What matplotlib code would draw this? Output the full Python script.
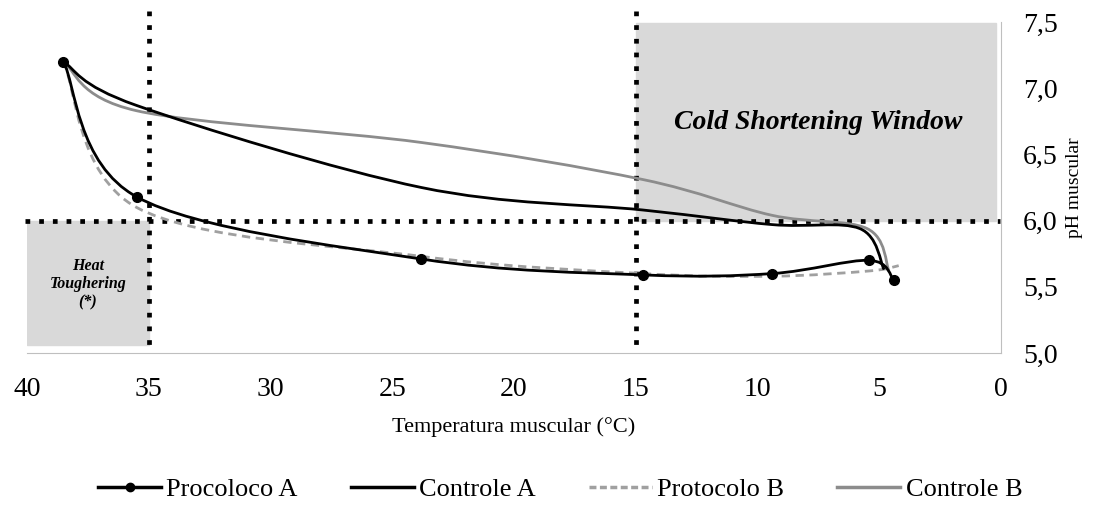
import matplotlib.pyplot as plt
import numpy as np
from matplotlib.path import Path
from matplotlib.patches import PathPatch, Rectangle
from matplotlib.lines import Line2D
from matplotlib.ticker import FuncFormatter

plt.rcParams['font.family'] = ['Liberation Serif', 'DejaVu Serif']

# temperatures (°C) and pH
temp_proc_a = [38.5, 35.5, 23.8, 14.7, 9.4, 5.4, 4.4]
ph_proc_a = [7.2, 6.18, 5.71, 5.59, 5.6, 5.7, 5.55]

temp_ctrl_a = [38.5, 35.5, 23.8, 14.7, 9.4, 5.8, 4.8]
ph_ctrl_a = [7.2, 6.87, 6.25, 6.08, 5.97, 5.94, 5.63]

temp_prot_b = [38.5, 35.5, 23.8, 14.7, 9.4, 5.4, 4.2]
ph_prot_b = [7.2, 6.1, 5.73, 5.6, 5.58, 5.62, 5.66]

temp_ctrl_b = [38.5, 35.5, 23.8, 14.7, 9.4, 5.5, 4.6]
ph_ctrl_b = [7.2, 6.83, 6.59, 6.31, 6.04, 5.94, 5.62]

series_names = ['Procoloco A', 'Controle A', 'Protocolo B', 'Controle B']
xticks = [40, 35, 30, 25, 20, 15, 10, 5, 0]
yticks = [5.0, 5.5, 6.0, 6.5, 7.0, 7.5]


def smooth_path(xs, ys):
    # excel-like smoothed line: cubic bezier segments through the points
    p = np.column_stack([xs, ys]).astype(float)
    n = len(p)
    verts = [p[0]]
    codes = [Path.MOVETO]
    for i in range(n - 1):
        prev = p[i - 1] if i > 0 else p[i]
        nxt = p[i + 2] if i + 2 < n else p[i + 1]
        c1 = p[i] + (p[i + 1] - prev) / 6
        c2 = p[i + 1] - (nxt - p[i]) / 6
        verts += [c1, c2, p[i + 1]]
        codes += [Path.CURVE4] * 3
    return Path(verts, codes)


fig = plt.figure(figsize=(11.09, 5.07), dpi=100)
ax = fig.add_axes([0.0243, 0.3037, 0.8783, 0.6529])
ax.set_xlim(40, 0)
ax.set_ylim(5.0, 7.5)

grey_fill = '#d9d9d9'
ax.add_patch(Rectangle((35, 5.06), 5, 0.94, color=grey_fill, zorder=0))
ax.add_patch(Rectangle((0.2, 6.0), 14.8, 1.49, color=grey_fill, zorder=0))

ax.text(7.5, 6.74, 'Cold Shortening Window', ha='center', va='center',
        fontsize=20, fontweight='bold', style='italic')
ax.text(37.5, 5.52, 'Heat\nToughering\n(*)', ha='center', va='center',
        fontsize=11.5, fontweight='bold', style='italic', linespacing=1.15)

dot = dict(color='black', lw=3.4, linestyle=(0, (1, 1.9)),
           dash_capstyle='butt', clip_on=False, zorder=2)
ax.plot([35, 35], [7.58, 5.05], **dot)
ax.plot([15, 15], [7.58, 5.02], **dot)
ax.plot([40.1, 0.05], [6.0, 6.0], **dot)

styles = [
    (temp_proc_a, ph_proc_a, 'black', '-', 2.0),
    (temp_ctrl_a, ph_ctrl_a, 'black', '-', 2.0),
    (temp_prot_b, ph_prot_b, '#a0a0a0', (0, (3, 2)), 2.0),
    (temp_ctrl_b, ph_ctrl_b, '#8c8c8c', '-', 2.0),
]
for xs, ys, c, ls, lw in styles[::-1]:
    ax.add_patch(PathPatch(smooth_path(xs, ys), fill=False, edgecolor=c,
                           linestyle=ls, lw=lw, zorder=3))
ax.plot(temp_proc_a, ph_proc_a, 'o', color='black', ms=7, zorder=4)

ax.yaxis.tick_right()
ax.yaxis.set_label_position('right')
ax.set_xticks(xticks)
ax.set_yticks(yticks)
ax.yaxis.set_major_formatter(FuncFormatter(lambda v, p: f'{v:.1f}'.replace('.', ',')))
ax.tick_params(axis='x', length=0, pad=17, labelsize=20)
ax.tick_params(axis='y', length=0, pad=16, labelsize=20)
for s in ['top', 'left']:
    ax.spines[s].set_visible(False)
for s in ['bottom', 'right']:
    ax.spines[s].set_color('#bfbfbf')
ax.set_xlabel('Temperatura muscular (°C)', fontsize=16, labelpad=11)
ax.set_ylabel('pH muscular', fontsize=14, labelpad=6)

handles = [
    Line2D([], [], color='black', lw=2.5, marker='o', ms=6),
    Line2D([], [], color='black', lw=2.5),
    Line2D([], [], color='#a0a0a0', lw=2.5, linestyle=(0, (2, 1))),
    Line2D([], [], color='#8c8c8c', lw=2.5),
]
fig.legend(handles, series_names, loc='center', bbox_to_anchor=(0.505, 0.035),
           ncol=4, frameon=False, fontsize=19, handlelength=2.4,
           handletextpad=0.2, columnspacing=2.0)

fig.savefig('out.png', dpi=100)
